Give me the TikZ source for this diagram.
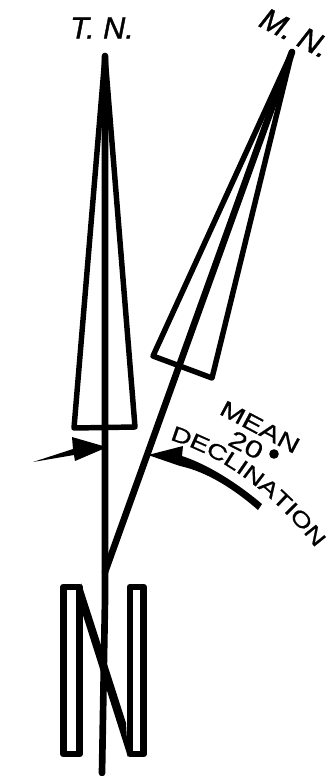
\documentclass[tikz,border=0pt]{standalone}
\usepackage{fontspec}
\setmainfont{Liberation Sans}
\newfontfamily\wideface[FakeStretch=1.32,FakeBold=0.8]{Liberation Sans}
\newfontfamily\handface[FakeBold=1.2]{Liberation Sans Italic}
\tikzset{
  ink/.style={line width=4.1pt,line join=round,line cap=round,draw=black},
  shaft/.style={line width=5pt,line cap=round,draw=black},
  blockn/.style={line width=5.2pt,line join=round,draw=black},
  lett/.style={inner sep=0pt,font=\wideface\fontsize{17}{17}\selectfont},
  numb/.style={inner sep=0pt,font=\wideface\fontsize{18}{18}\selectfont},
  hand/.style={inner sep=0pt,font=\handface\fontsize{23}{23}\selectfont},
}
\usetikzlibrary{decorations.text}
\begin{document}
\begin{tikzpicture}[x=0.75pt,y=-0.75pt]
\useasboundingbox (0,0) rectangle (336,776);
% named points
\coordinate (tn) at (105,56);
\coordinate (tl) at (74,428);
\coordinate (tr) at (135,427);
\coordinate (tb) at (102,773);
\coordinate (tm) at (105,600);
\coordinate (mn) at (292,52);
\coordinate (ml) at (153,356);
\coordinate (mr) at (212,378);
\coordinate (mb) at (105,572);
% true north pennant
\draw[ink] (tl) -- (tn) -- (tr) -- cycle;
\draw[shaft] (tn) -- (tm) -- (tb);
% magnetic north pennant
\draw[ink] (ml) -- (mn) -- (mr) -- cycle;
\draw[shaft] (mn) -- (mb);
% block N
\draw[blockn] (63.5,587) -- (63.5,754) -- (79.5,754) -- (79.5,587) -- cycle;
\draw[blockn] (130,754) -- (130,587) -- (143.5,587) -- (143.5,754) -- cycle;
\fill (81,583) -- (126,723) -- (128,757) -- (81,609) -- cycle;
% declination arrows
\fill (33,462) -- (73,449) -- (72,437) -- (103,446) -- (103,449) -- (75,461) -- (74,455) -- cycle;
\fill (148,455) -- (183,446) -- (182,456) .. controls (212,466) and (242,487) .. (262,504)
  -- (258,510) .. controls (235,490) and (208,472) .. (180,466) -- cycle;
% lettering
\node[hand] (t) at (102,28) {T. N.};
\node[hand,rotate=-27] (m) at (295,33) {M. N.};
\node[lett,rotate=-28] (mean) at (260,427) {MEAN};
\node[numb,rotate=-27] (twenty) at (246,445) {20};
\fill (274,454) circle (4.8);
\path[postaction={decorate,decoration={text along path,raise=-6pt,
   text={|\wideface\fontsize{16}{16}\selectfont|DECLINATION},text align=center}}]
   (164,430) .. controls (225,445) and (285,492) .. (327,550);
\end{tikzpicture}
\end{document}
